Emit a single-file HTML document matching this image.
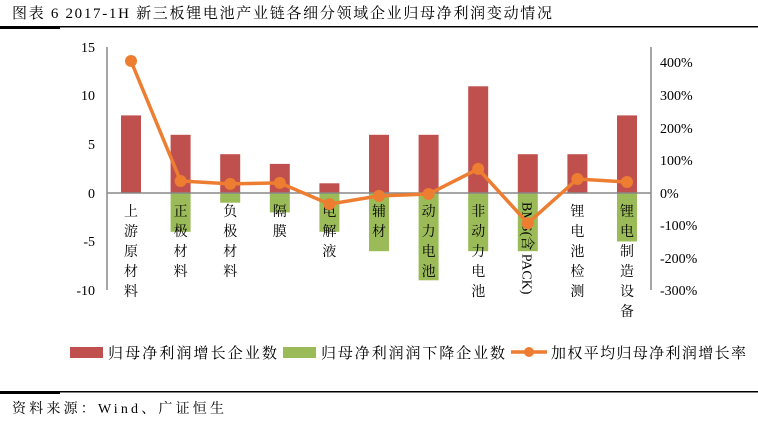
<!DOCTYPE html>
<html><head><meta charset="utf-8"><style>
body{margin:0;background:#fff;width:758px;height:418px;overflow:hidden}
text{font-family:"Liberation Serif","Noto Serif CJK SC",serif;fill:#000}
</style></head><body>
<svg width="758" height="418" xmlns="http://www.w3.org/2000/svg">
<text x="12" y="18" font-size="15" textLength="540" lengthAdjust="spacing">图表 6 2017-1H 新三板锂电池产业链各细分领域企业归母净利润变动情况</text>
<rect x="0" y="26" width="758" height="1.5" fill="#000"/>
<rect x="0" y="26" width="60" height="3" fill="#000"/>
<g font-size="14" text-anchor="end">
<text x="95" y="52">15</text><text x="95" y="100">10</text><text x="95" y="149">5</text><text x="95" y="198">0</text><text x="95" y="246">-5</text><text x="95" y="295">-10</text>
</g>
<g font-size="14">
<text x="660" y="67">400%</text><text x="660" y="100">300%</text><text x="660" y="133">200%</text><text x="660" y="165">100%</text><text x="660" y="198">0%</text><text x="660" y="230">-100%</text><text x="660" y="263">-200%</text><text x="660" y="295">-300%</text>
</g>
<line x1="107" y1="47" x2="107" y2="290" stroke="#888" stroke-width="1.5"/>
<line x1="651" y1="47" x2="651" y2="290" stroke="#888" stroke-width="1.5"/>
<g fill="#C0504D">
<rect x="121" y="115.4" width="20" height="77.6"/>
<rect x="170.6" y="134.8" width="20" height="58.2"/>
<rect x="220.2" y="154.2" width="20" height="38.8"/>
<rect x="269.8" y="163.9" width="20" height="29.1"/>
<rect x="319.4" y="183.3" width="20" height="9.7"/>
<rect x="369" y="134.8" width="20" height="58.2"/>
<rect x="418.6" y="134.8" width="20" height="58.2"/>
<rect x="468.2" y="86.3" width="20" height="106.7"/>
<rect x="517.8" y="154.2" width="20" height="38.8"/>
<rect x="567.4" y="154.2" width="20" height="38.8"/>
<rect x="617" y="115.4" width="20" height="77.6"/>
</g>
<g fill="#9BBB59">
<rect x="170.6" y="193" width="20" height="38.8"/>
<rect x="220.2" y="193" width="20" height="9.7"/>
<rect x="269.8" y="193" width="20" height="19.4"/>
<rect x="319.4" y="193" width="20" height="38.8"/>
<rect x="369" y="193" width="20" height="58.2"/>
<rect x="418.6" y="193" width="20" height="87.3"/>
<rect x="468.2" y="193" width="20" height="58.2"/>
<rect x="517.8" y="193" width="20" height="58.2"/>
<rect x="617" y="193" width="20" height="48.5"/>
</g>
<line x1="107" y1="193" x2="651" y2="193" stroke="#888" stroke-width="1.5"/>
<g font-size="14" text-anchor="middle">
<text x="131" y="216">上</text><text x="131" y="236">游</text><text x="131" y="256">原</text><text x="131" y="276">材</text><text x="131" y="296">料</text>
<text x="180.6" y="216">正</text><text x="180.6" y="236">极</text><text x="180.6" y="256">材</text><text x="180.6" y="276">料</text>
<text x="230.2" y="216">负</text><text x="230.2" y="236">极</text><text x="230.2" y="256">材</text><text x="230.2" y="276">料</text>
<text x="279.8" y="216">隔</text><text x="279.8" y="236">膜</text>
<text x="329.4" y="216">电</text><text x="329.4" y="236">解</text><text x="329.4" y="256">液</text>
<text x="379" y="216">辅</text><text x="379" y="236">材</text>
<text x="428.6" y="216">动</text><text x="428.6" y="236">力</text><text x="428.6" y="256">电</text><text x="428.6" y="276">池</text>
<text x="478.2" y="216">非</text><text x="478.2" y="236">动</text><text x="478.2" y="256">力</text><text x="478.2" y="276">电</text><text x="478.2" y="296">池</text>
<text x="577.4" y="216">锂</text><text x="577.4" y="236">电</text><text x="577.4" y="256">池</text><text x="577.4" y="276">检</text><text x="577.4" y="296">测</text>
<text x="627" y="216">锂</text><text x="627" y="236">电</text><text x="627" y="256">制</text><text x="627" y="276">造</text><text x="627" y="296">设</text><text x="627" y="316">备</text>
<text transform="translate(522.5,202) rotate(90)" text-anchor="start">BMS(含 PACK)</text>
</g>
<polyline fill="none" stroke="#ED7D31" stroke-width="3.5" points="131,61 180.6,181 230.2,183.9 279.8,182.9 329.4,204.1 379,195.9 428.6,194 478.2,168.9 527.8,223.2 577.4,179 627,182"/>
<g fill="#ED7D31">
<circle cx="131" cy="61" r="6"/><circle cx="180.6" cy="181" r="6"/><circle cx="230.2" cy="183.9" r="6"/><circle cx="279.8" cy="182.9" r="6"/><circle cx="329.4" cy="204.1" r="6"/><circle cx="379" cy="195.9" r="6"/><circle cx="428.6" cy="194" r="6"/><circle cx="478.2" cy="168.9" r="6"/><circle cx="527.8" cy="223.2" r="6"/><circle cx="577.4" cy="179" r="6"/><circle cx="627" cy="182" r="6"/>
</g>
<rect x="70" y="347" width="33" height="11" fill="#C0504D"/>
<text x="108" y="358" font-size="15" textLength="169" lengthAdjust="spacing">归母净利润增长企业数</text>
<rect x="283" y="347" width="33" height="11" fill="#9BBB59"/>
<text x="321" y="358" font-size="15" textLength="184" lengthAdjust="spacing">归母净利润润下降企业数</text>
<line x1="511" y1="352" x2="547" y2="352" stroke="#ED7D31" stroke-width="3.5"/>
<circle cx="529" cy="352" r="5" fill="#ED7D31"/>
<text x="551" y="358" font-size="15" textLength="195" lengthAdjust="spacing">加权平均归母净利润增长率</text>
<rect x="0" y="391" width="758" height="1.5" fill="#000"/>
<rect x="0" y="391" width="60" height="3" fill="#000"/>
<text x="12" y="413" font-size="14" textLength="212" lengthAdjust="spacing">资料来源：Wind、广证恒生</text>
</svg>
</body></html>
